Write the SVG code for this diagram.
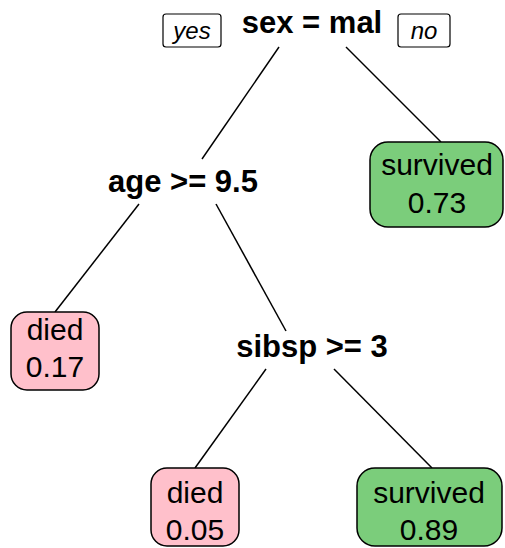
<svg xmlns="http://www.w3.org/2000/svg" width="505" height="548" viewBox="0 0 505 548">
<style>
.split{font-family:"Liberation Sans",Arial,sans-serif;font-weight:bold;font-size:31px;text-anchor:middle;fill:#000}
.leaf{font-family:"Liberation Sans",Arial,sans-serif;font-size:30px;text-anchor:middle;fill:#000}
.lab{font-family:"Liberation Sans",Arial,sans-serif;font-style:italic;font-size:24px;text-anchor:middle;fill:#000}
.box{stroke:#000;stroke-width:1.5}
.died{fill:#FFC0CB}
.surv{fill:#7BCD7B}
.edge{stroke:#000;stroke-width:1.5;fill:none}
.tag{fill:#fff;stroke:#000;stroke-width:1.2}
</style>
<g id="connectors">
<line class="edge" x1="279" y1="47" x2="202" y2="159"/>
<line class="edge" x1="346" y1="47" x2="441" y2="142"/>
<line class="edge" x1="139" y1="204" x2="55" y2="312"/>
<line class="edge" x1="216" y1="204" x2="286" y2="331"/>
<line class="edge" x1="266" y1="369" x2="195" y2="468"/>
<line class="edge" x1="334" y1="369" x2="432" y2="468"/>
</g>
<g id="node-root">
<text class="split" x="312" y="33">sex = mal</text>
</g>
<g id="label-yes">
<rect class="tag" x="163" y="14" width="58" height="33" rx="3"/>
<text class="lab" x="192" y="39">yes</text>
</g>
<g id="label-no">
<rect class="tag" x="398" y="14" width="52" height="33" rx="3"/>
<text class="lab" x="424" y="39">no</text>
</g>
<g id="node-age">
<text class="split" x="183" y="192">age &gt;= 9.5</text>
</g>
<g id="node-survived-073">
<rect class="box surv" x="370" y="142" width="133" height="85" rx="18"/>
<text class="leaf" x="437" y="175">survived</text>
<text class="leaf" x="437" y="213">0.73</text>
</g>
<g id="node-died-017">
<rect class="box died" x="11" y="312" width="88" height="78" rx="16"/>
<text class="leaf" x="55" y="340">died</text>
<text class="leaf" x="55" y="377">0.17</text>
</g>
<g id="node-sibsp">
<text class="split" x="312" y="357">sibsp &gt;= 3</text>
</g>
<g id="node-died-005">
<rect class="box died" x="151" y="468" width="88" height="78" rx="16"/>
<text class="leaf" x="195" y="503">died</text>
<text class="leaf" x="195" y="540">0.05</text>
</g>
<g id="node-survived-089">
<rect class="box surv" x="357" y="468" width="145" height="78" rx="18"/>
<text class="leaf" x="429" y="503">survived</text>
<text class="leaf" x="429" y="540">0.89</text>
</g>
</svg>
